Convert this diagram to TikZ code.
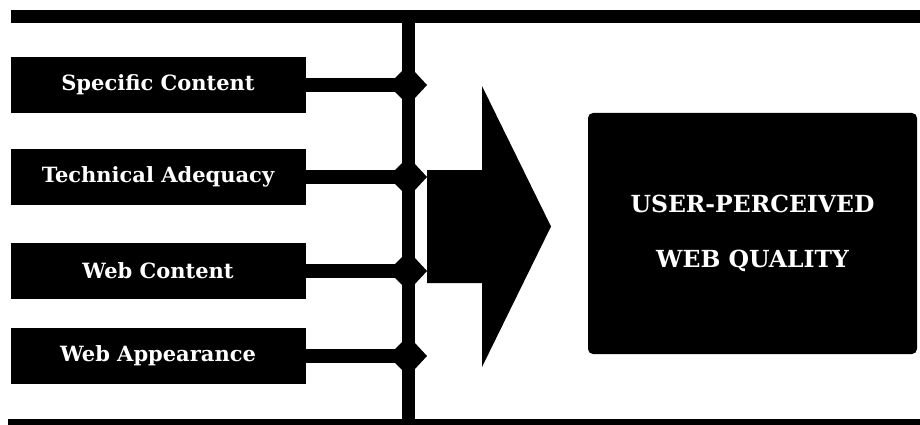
\documentclass[tikz,border=0pt]{standalone}
\usepackage{fontspec}
\setmainfont{DejaVu Serif}
\begin{document}
\begin{tikzpicture}[x=1pt,y=-1pt,
  lbox/.style={fill=black, text=white, inner sep=0pt, minimum width=295pt, minimum height=56pt,
    font=\bfseries\fontsize{21}{24}\selectfont},
  conn/.style={line width=14pt, black},
  bar/.style={line width=12.7pt, black},
  bigbox/.style={fill=black, text=white, inner sep=0pt, rounded corners=5pt,
    minimum width=329pt, minimum height=241pt, align=center,
    font=\bfseries\fontsize{23.5}{55}\selectfont}]
\useasboundingbox (0,0) rectangle (920,425);
% frame bars
\coordinate (tl) at (11,16.3);
\coordinate (tr) at (921,16.3);
\coordinate (bl) at (8,425);
\coordinate (br) at (921,425);
\coordinate (vtop) at (408,10);
\coordinate (vbot) at (408,425);
\draw[bar] (tl) -- (tr);
\draw[line width=12pt] (bl) -- (br);
\draw[line width=13pt] (vtop) -- (vbot);
% factor boxes
\node[lbox] (sc) at (158,85) {Specific Content};
\node[lbox] (ta) at (158,177) {Technical Adequacy};
\node[lbox] (wc) at (158,271) {Web Content};
\node[lbox] (wa) at (158,356) {Web Appearance};
\coordinate (dx) at (408,0);
\foreach \b/\d in {sc/j1, ta/j2, wc/j3, wa/j4}{
  \coordinate (\d) at (\b.east -| dx);
  \draw[conn] (\b.east) -- (\d);
  \fill ([shift={(-13,-7)}]\d) -- ([shift={(-6,-14)}]\d) -- ([shift={(6,-14)}]\d)
     -- ([shift={(19,0)}]\d) -- ([shift={(6,14)}]\d) -- ([shift={(-6,14)}]\d)
     -- ([shift={(-13,7)}]\d) -- cycle;
}
% big arrow
\fill (427,170) -- (482,170) -- (482,86) -- (551,226.5) -- (482,367) -- (482,283) -- (427,283) -- cycle;
% result box
\node[bigbox] (uq) at (752.5,233.5) {USER-PERCEIVED\\WEB QUALITY};
\end{tikzpicture}
\end{document}
